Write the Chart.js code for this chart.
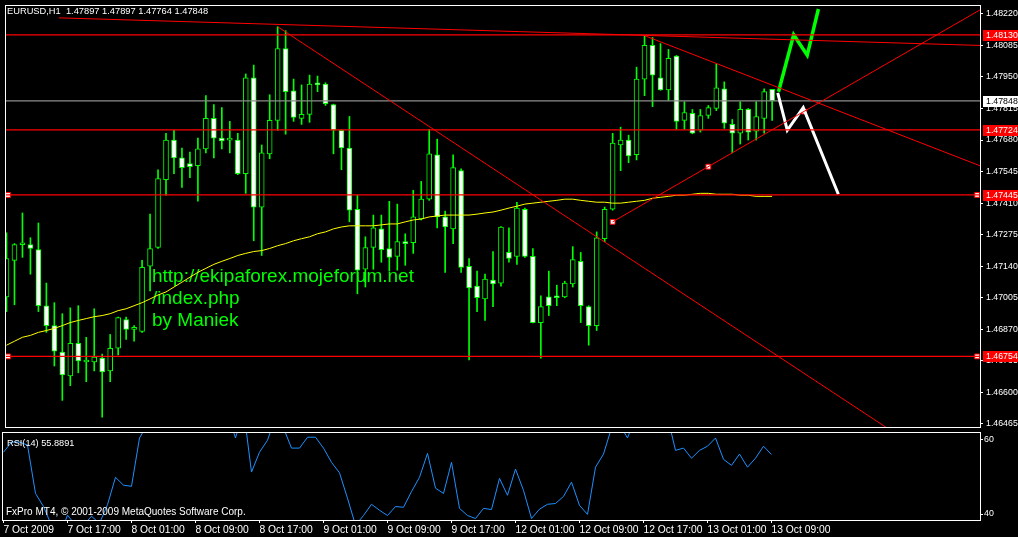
<!DOCTYPE html>
<html>
<head>
<meta charset="utf-8">
<title>EURUSD,H1</title>
<script src="https://cdn.jsdelivr.net/npm/chart.js@4.4.1/dist/chart.umd.min.js"></script>
<style>
  html, body { margin: 0; padding: 0; background: #000; }
  body { width: 1018px; height: 537px; position: relative; overflow: hidden; }
  canvas { position: absolute; left: 0; }
  #priceChart { top: 0; }
  #rsiChart { top: 431px; }
</style>
</head>
<body>
<canvas id="priceChart" width="1018" height="432"></canvas>
<canvas id="rsiChart" width="1018" height="106"></canvas>
<script>
const symbol = "EURUSD,H1";

// hourly bars, 7 Oct 2009 09:00 .. 13 Oct 2009 09:00 (bar index 0..96)
const opens = [
  1.47009, 1.47165, 1.47232, 1.47233, 1.47211, 1.46971, 1.46886, 1.46773, 1.46671, 1.46810,
  1.46730, 1.46730, 1.46747, 1.46692, 1.46789, 1.46912, 1.46870, 1.46861, 1.47140, 1.47220,
  1.47511, 1.47680, 1.47604, 1.47579, 1.47570, 1.47642, 1.47773, 1.47688, 1.47680, 1.47680,
  1.47536, 1.47946, 1.47393, 1.47621, 1.47764, 1.48072, 1.47891, 1.47773, 1.47790, 1.47925,
  1.47920, 1.47832, 1.47722, 1.47646, 1.47384, 1.47127, 1.47220, 1.47300, 1.47216, 1.47182,
  1.47241, 1.47241, 1.47342, 1.47427, 1.47617, 1.47351, 1.47300, 1.47549, 1.47140, 1.47055,
  1.47000, 1.47081, 1.47068, 1.47199, 1.47182, 1.47384, 1.47182, 1.46899, 1.47009, 1.47013,
  1.47009, 1.47064, 1.47161, 1.46967, 1.46886, 1.47258, 1.47384, 1.47659, 1.47680, 1.47617,
  1.47941, 1.48085, 1.47946, 1.47895, 1.48039, 1.47764, 1.47794, 1.47722, 1.47785, 1.47815,
  1.47899, 1.47747, 1.47709, 1.47811, 1.47718, 1.47773, 1.47897
];
const highs = [
  1.47283, 1.47237, 1.47368, 1.47262, 1.47325, 1.47068, 1.46984, 1.46937, 1.46962, 1.46971,
  1.46836, 1.46958, 1.46764, 1.46848, 1.46922, 1.46922, 1.46886, 1.47165, 1.47363, 1.47553,
  1.47709, 1.47722, 1.47646, 1.47629, 1.47688, 1.47870, 1.47832, 1.47819, 1.47760, 1.47709,
  1.47963, 1.48001, 1.47659, 1.47874, 1.48165, 1.48148, 1.47941, 1.47916, 1.47958, 1.47954,
  1.47925, 1.47834, 1.47724, 1.47781, 1.47444, 1.47266, 1.47359, 1.47359, 1.47418, 1.47406,
  1.47279, 1.47465, 1.47503, 1.47726, 1.47684, 1.47376, 1.47617, 1.47557, 1.47173, 1.47119,
  1.47106, 1.47203, 1.47310, 1.47304, 1.47414, 1.47389, 1.47216, 1.47013, 1.47119, 1.47059,
  1.47076, 1.47224, 1.47199, 1.46971, 1.47287, 1.47393, 1.47709, 1.47735, 1.47701, 1.47992,
  1.48127, 1.48119, 1.48093, 1.48068, 1.48042, 1.47844, 1.47811, 1.47811, 1.47828, 1.48005,
  1.47929, 1.47768, 1.47844, 1.47815, 1.47844, 1.47899, 1.47897
];
const lows = [
  1.46946, 1.46975, 1.47178, 1.47106, 1.46946, 1.46857, 1.46713, 1.46566, 1.46629, 1.46684,
  1.46646, 1.46692, 1.46494, 1.46646, 1.46760, 1.46827, 1.46819, 1.46857, 1.47034, 1.47216,
  1.47444, 1.47536, 1.47477, 1.47519, 1.47418, 1.47625, 1.47604, 1.47642, 1.47625, 1.47532,
  1.47452, 1.47249, 1.47186, 1.47600, 1.47722, 1.47705, 1.47760, 1.47747, 1.47756, 1.47887,
  1.47828, 1.47621, 1.47553, 1.47330, 1.47022, 1.47051, 1.47127, 1.47157, 1.47119, 1.47123,
  1.47144, 1.47195, 1.47338, 1.47422, 1.47304, 1.47114, 1.47237, 1.47114, 1.46739, 1.46946,
  1.46908, 1.46967, 1.47055, 1.47157, 1.47148, 1.47178, 1.46897, 1.46747, 1.46929, 1.46971,
  1.47005, 1.47051, 1.46899, 1.46802, 1.46865, 1.47245, 1.47380, 1.47549, 1.47583, 1.47595,
  1.47870, 1.47823, 1.47893, 1.47849, 1.47726, 1.47726, 1.47707, 1.47714, 1.47773, 1.47806,
  1.47730, 1.47625, 1.47663, 1.47680, 1.47680, 1.47709, 1.47764
];
const closes = [
  1.47173, 1.47233, 1.47236, 1.47216, 1.46971, 1.46886, 1.46777, 1.46675, 1.46810, 1.46735,
  1.46731, 1.46751, 1.46688, 1.46789, 1.46920, 1.46870, 1.46871, 1.47135, 1.47216, 1.47515,
  1.47680, 1.47604, 1.47562, 1.47566, 1.47642, 1.47773, 1.47688, 1.47676, 1.47681, 1.47536,
  1.47946, 1.47393, 1.47625, 1.47764, 1.48072, 1.47887, 1.47777, 1.47790, 1.47920, 1.47916,
  1.47836, 1.47722, 1.47646, 1.47380, 1.47123, 1.47220, 1.47304, 1.47211, 1.47178, 1.47245,
  1.47237, 1.47351, 1.47427, 1.47621, 1.47351, 1.47308, 1.47562, 1.47135, 1.47047, 1.47005,
  1.47085, 1.47064, 1.47308, 1.47173, 1.47389, 1.47182, 1.46899, 1.46967, 1.46971, 1.47005,
  1.47068, 1.47169, 1.46971, 1.46886, 1.47262, 1.47384, 1.47667, 1.47680, 1.47612, 1.47941,
  1.48085, 1.47958, 1.47895, 1.48030, 1.47760, 1.47798, 1.47709, 1.47785, 1.47819, 1.47903,
  1.47752, 1.47709, 1.47811, 1.47714, 1.47781, 1.47887, 1.47848
];
const maValues = [
  1.46802, 1.46819, 1.46836, 1.46844, 1.46857, 1.46865, 1.46874, 1.46886, 1.46899, 1.46908,
  1.46916, 1.46924, 1.46929, 1.46937, 1.46950, 1.46958, 1.46971, 1.46984, 1.47000, 1.47017,
  1.47030, 1.47051, 1.47072, 1.47093, 1.47114, 1.47131, 1.47148, 1.47161, 1.47173, 1.47186,
  1.47195, 1.47203, 1.47207, 1.47216, 1.47228, 1.47237, 1.47249, 1.47258, 1.47266, 1.47279,
  1.47287, 1.47300, 1.47308, 1.47313, 1.47313, 1.47313, 1.47313, 1.47317, 1.47321, 1.47321,
  1.47330, 1.47338, 1.47342, 1.47351, 1.47355, 1.47359, 1.47359, 1.47359, 1.47359, 1.47363,
  1.47368, 1.47372, 1.47380, 1.47389, 1.47397, 1.47406, 1.47410, 1.47414, 1.47418, 1.47422,
  1.47427, 1.47427, 1.47422, 1.47418, 1.47414, 1.47414, 1.47410, 1.47410, 1.47414, 1.47418,
  1.47422, 1.47431, 1.47435, 1.47439, 1.47444, 1.47444, 1.47448, 1.47452, 1.47452, 1.47448,
  1.47448, 1.47448, 1.47444, 1.47444, 1.47439, 1.47439, 1.47439
];
const rsiValues = [
  56.5, 59.2, 59.2, 58.4, 45.5, 42.0, 37.0, 34.0, 39.7, 37.0,
  37.0, 39.4, 37.5, 42.5, 49.8, 47.7, 47.4, 60.3, 64.0, 70.0,
  74.0, 72.0, 70.0, 69.0, 71.0, 74.0, 70.0, 68.0, 67.0, 60.3,
  68.0, 51.2, 56.5, 59.7, 66.0, 63.0, 57.6, 57.6, 60.5, 60.5,
  57.6, 53.8, 51.0, 44.2, 37.0, 39.6, 42.6, 41.0, 39.6, 42.0,
  41.8, 46.0, 49.8, 56.2, 46.9, 45.5, 53.8, 41.5, 39.6, 38.8,
  41.5, 41.2, 49.5, 45.0, 52.0, 46.3, 38.8, 41.3, 42.6, 42.8,
  44.7, 48.5, 42.3, 39.9, 52.5, 56.0, 63.0, 64.0, 60.3, 66.0,
  70.0, 67.0, 65.0, 66.0, 57.0, 57.6, 54.9, 57.0, 58.1, 60.3,
  54.6, 53.0, 56.0, 52.5, 54.9, 58.1, 55.8891
];

const timeTicks = [0, 8, 16, 24, 32, 40, 48, 56, 64, 72, 80, 88, 96];
const timeLabels = [
  "7 Oct 2009", "7 Oct 17:00", "8 Oct 01:00", "8 Oct 09:00", "8 Oct 17:00",
  "9 Oct 01:00", "9 Oct 09:00", "9 Oct 17:00", "12 Oct 01:00", "12 Oct 09:00",
  "12 Oct 17:00", "13 Oct 01:00", "13 Oct 09:00"
];
const priceTicks = [
  1.48220, 1.48085, 1.47950, 1.47815, 1.47680, 1.47545, 1.47410,
  1.47275, 1.47140, 1.47005, 1.46870, 1.46735, 1.46600, 1.46465
];
const rsiTicks = [40, 60];

// drawn objects: horizontal levels, trend lines and the two forecast paths
const redLevels = [1.48130, 1.47724, 1.47445, 1.46754];
const bidPrice = 1.47848;
const levelHandles = [[0.19, 1.47445], [121.7, 1.47445], [0.19, 1.46754], [121.7, 1.46754]];
const trendLines = [
  [[6.56, 1.48203], [122.06, 1.48085]],
  [[34, 1.48165], [122.06, 1.46186]],
  [[80, 1.48127], [122.06, 1.47570]],
  [[76, 1.47330], [122.06, 1.48237]]
];
const trendHandles = [[76, 1.47330], [88, 1.47566], [100, 1.47802]];
const greenPath = [[96.8, 1.47887], [98.7, 1.48131], [100.4, 1.48043], [101.8, 1.48241]];
const whitePath = [[96.7, 1.47882], [97.9, 1.47722], [99.9, 1.47819], [104.3, 1.47448]];
const watermark = ["http://ekipaforex.mojeforum.net", "/index.php", "by Maniek"];

const X_MIN = -0.1875;
const X_MAX = 122.0625;
const LIME = "#00ff00";
const RED = "#ff0000";
const SANS = "'Liberation Sans', Arial, sans-serif";

const barIdx = opens.map((_, i) => i);
const toPoints = (pairs) => pairs.map(([x, y]) => ({ x, y }));
const last = opens.length - 1;

function lineSet(data, color, width, order) {
  return {
    type: "line",
    data,
    borderColor: color,
    borderWidth: width,
    pointRadius: 0,
    borderJoinStyle: "miter",
    order
  };
}

function handleSet(pairs) {
  return {
    type: "line",
    data: toPoints(pairs),
    showLine: false,
    pointStyle: "rect",
    pointRadius: 3.4,
    pointBorderWidth: 1,
    pointBorderColor: RED,
    pointBackgroundColor: "#fff",
    order: 0
  };
}

const frame = {
  id: "frame",
  afterDraw(chart) {
    const { ctx, chartArea: a } = chart;
    ctx.save();
    ctx.strokeStyle = "#fff";
    ctx.lineWidth = 1;
    ctx.strokeRect(a.left + 0.5, a.top + 0.5, a.width, a.height);
    ctx.restore();
  }
};

const priceTexts = {
  id: "priceTexts",
  beforeDatasetsDraw(chart) {
    const { ctx } = chart;
    ctx.save();
    ctx.fillStyle = LIME;
    ctx.font = "19px " + SANS;
    ctx.textBaseline = "alphabetic";
    watermark.forEach((line, i) => ctx.fillText(line, 152, 282 + i * 22));
    ctx.restore();
  },
  afterDraw(chart) {
    const { ctx } = chart;
    const y = chart.scales.y;
    ctx.save();
    ctx.font = "9.3px " + SANS;
    ctx.fillStyle = "#fff";
    ctx.textBaseline = "alphabetic";
    const ohlc = [opens[last], highs[last], lows[last], closes[last]].map((v) => v.toFixed(5)).join(" ");
    ctx.fillText(symbol + "  " + ohlc, 7, 14);

    const tag = (price, bg, fg) => {
      const py = Math.round(y.getPixelForValue(price));
      ctx.fillStyle = bg;
      ctx.fillRect(983, py - 5, 35, 11);
      ctx.fillStyle = fg;
      ctx.font = "8.8px " + SANS;
      ctx.textBaseline = "middle";
      ctx.fillText(price.toFixed(5), 986, py + 0.5);
    };
    redLevels.forEach((p) => tag(p, RED, "#fff"));
    tag(bidPrice, "#fff", "#000");
    ctx.restore();
  }
};

const rsiTexts = {
  id: "rsiTexts",
  afterDraw(chart) {
    const { ctx } = chart;
    ctx.save();
    ctx.fillStyle = "#fff";
    ctx.textBaseline = "alphabetic";
    ctx.font = "9.2px " + SANS;
    ctx.fillText("RSI(14) " + rsiValues[last].toFixed(4), 7, 15);
    ctx.font = "10px " + SANS;
    ctx.fillText("FxPro MT4, \u00a9 2001-2009 MetaQuotes Software Corp.", 6, 84);
    ctx.restore();
  }
};

new Chart(document.getElementById("priceChart"), {
  type: "bar",
  data: {
    datasets: [
      ...trendLines.map((l) => lineSet(toPoints(l), RED, 1, 0)),
      ...redLevels.map((p) => lineSet([{ x: X_MIN, y: p }, { x: X_MAX, y: p }], RED, 1.2, 0)),
      lineSet([{ x: X_MIN, y: bidPrice }, { x: X_MAX, y: bidPrice }], "#8c8c8c", 1.2, 1),
      lineSet(barIdx.map((i) => ({ x: i, y: maValues[i] })), "#ffff00", 1, 1),
      lineSet(toPoints(greenPath), LIME, 3.5, 0),
      lineSet(toPoints(whitePath), "#ffffff", 3, 0),
      handleSet(levelHandles),
      handleSet(trendHandles),
      {
        type: "bar",
        data: barIdx.map((i) => ({ x: i, y: [opens[i], closes[i]] })),
        backgroundColor: barIdx.map((i) => (closes[i] >= opens[i] ? "#000" : "#fff")),
        borderColor: LIME,
        borderWidth: 1,
        borderSkipped: false,
        barThickness: 5,
        minBarLength: 2,
        grouped: false,
        order: 2
      },
      {
        type: "bar",
        data: barIdx.map((i) => ({ x: i, y: [lows[i], highs[i]] })),
        backgroundColor: LIME,
        borderWidth: 0,
        barThickness: 1,
        minBarLength: 1,
        grouped: false,
        order: 3
      }
    ]
  },
  options: {
    responsive: false,
    animation: false,
    devicePixelRatio: 1,
    events: [],
    layout: { padding: { left: 2, top: 2, right: 0, bottom: 2 } },
    plugins: { legend: { display: false }, tooltip: { enabled: false } },
    scales: {
      x: { type: "linear", min: X_MIN, max: X_MAX, offset: false, display: false },
      y: {
        type: "linear",
        position: "right",
        min: 1.46452,
        max: 1.48258,
        afterBuildTicks: (s) => { s.ticks = priceTicks.map((v) => ({ value: v })); },
        afterFit: (s) => { s.width = 38; s.paddingTop = 0; s.paddingBottom = 0; },
        ticks: {
          color: "#fff",
          autoSkip: false,
          padding: 3,
          font: { family: SANS, size: 8.8 },
          callback: (v) => Number(v).toFixed(5)
        },
        grid: { drawOnChartArea: false, color: "#fff", tickLength: 3 },
        border: { color: "#fff" }
      }
    }
  },
  plugins: [priceTexts, frame]
});

new Chart(document.getElementById("rsiChart"), {
  type: "line",
  data: {
    datasets: [lineSet(barIdx.map((i) => ({ x: i, y: rsiValues[i] })), "#1e90ff", 1, 0)]
  },
  options: {
    responsive: false,
    animation: false,
    devicePixelRatio: 1,
    events: [],
    layout: { padding: { left: 2, top: 1, right: 0, bottom: 0 } },
    plugins: { legend: { display: false }, tooltip: { enabled: false } },
    scales: {
      x: {
        type: "linear",
        min: X_MIN,
        max: X_MAX,
        offset: false,
        afterBuildTicks: (s) => { s.ticks = timeTicks.map((v) => ({ value: v })); },
        afterFit: (s) => { s.height = 17; s.paddingLeft = 0; s.paddingRight = 0; },
        ticks: {
          color: "#fff",
          autoSkip: false,
          maxRotation: 0,
          align: "start",
          padding: 1,
          font: { family: SANS, size: 10.3 },
          callback: (v) => timeLabels[timeTicks.indexOf(v)]
        },
        grid: { drawOnChartArea: false, color: "#fff", tickLength: 3 },
        border: { color: "#fff" }
      },
      y: {
        type: "linear",
        position: "right",
        min: 38.4,
        max: 61.9,
        afterBuildTicks: (s) => { s.ticks = rsiTicks.map((v) => ({ value: v })); },
        afterFit: (s) => { s.width = 38; s.paddingTop = 0; s.paddingBottom = 0; },
        ticks: { color: "#fff", padding: 1, font: { family: SANS, size: 8.8 } },
        grid: { drawOnChartArea: false, color: "#fff", tickLength: 3 },
        border: { color: "#fff" }
      }
    }
  },
  plugins: [rsiTexts, frame]
});
</script>
</body>
</html>
